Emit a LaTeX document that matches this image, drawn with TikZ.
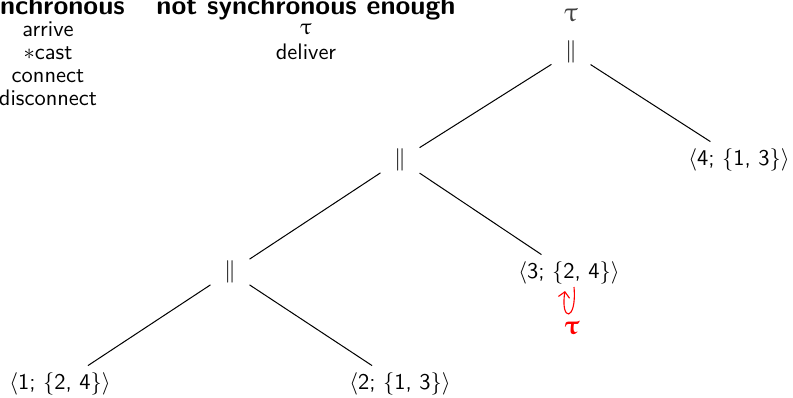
\documentclass[tikz,border=0pt]{standalone}
\usepackage{amsmath}
\usepackage[Euler]{upgreek}
\usetikzlibrary{arrows.meta}
\begin{document}
\begin{tikzpicture}[x=0.445pt,y=-0.445pt,
  every node/.style={font=\sffamily, inner sep=0pt},
  head/.style={font=\sffamily\large\bfseries, anchor=base},
  item/.style={font=\sffamily, anchor=base},
  par/.style={minimum width=17pt, minimum height=17pt},
  leaf/.style={inner sep=3pt},
  edge/.style={line width=0.45pt}]
\useasboundingbox (0,0) rectangle (793,397);
% headings
\node[head] (syn) at (50,14.5) {synchronous};
\node[head] (nsyn) at (306,14.5) {not synchronous enough};
\node[item] (a1) at (48,36) {arrive};
\node[item] (a2) at (48,59) {$*$cast};
\node[item] (a3) at (48,82) {connect};
\node[item] (a4) at (48,105) {disconnect};
\node[item] (b1) at (306,34) {$\uptau$};
\node[item] (b2) at (306,59) {deliver};
% tree
\node[text=black!75] (rtau) at (571,15) {\large$\uptau$};
\node[par] (p1) at (571,52) {$\|$};
\node[par] (p2) at (400,160) {$\|$};
\node[leaf] (n4) at (739,160) {$\langle$4; \{1, 3\}$\rangle$};
\node[par] (p3) at (230,272) {$\|$};
\node[leaf] (n3) at (569,273) {$\langle$3; \{2, 4\}$\rangle$};
\node[leaf] (n1) at (60,384) {$\langle$1; \{2, 4\}$\rangle$};
\node[leaf] (n2) at (400,384) {$\langle$2; \{1, 3\}$\rangle$};
\draw[edge] (p1) -- (p2);
\draw[edge] (p1) -- (n4);
\draw[edge] (p2) -- (p3);
\draw[edge] (p2) -- (n3);
\draw[edge] (p3) -- (n1);
\draw[edge] (p3) -- (n2);
% loop
\coordinate (ls) at (574,287);
\coordinate (le) at (565,291);
\draw[red, line width=0.5pt, -{Straight Barb[length=2.5pt]}] (ls) .. controls (577,322) and (560,322) .. (le);
\node[text=red] (ltau) at (572,328) {\large$\boldsymbol{\uptau}$};
\end{tikzpicture}
\end{document}
